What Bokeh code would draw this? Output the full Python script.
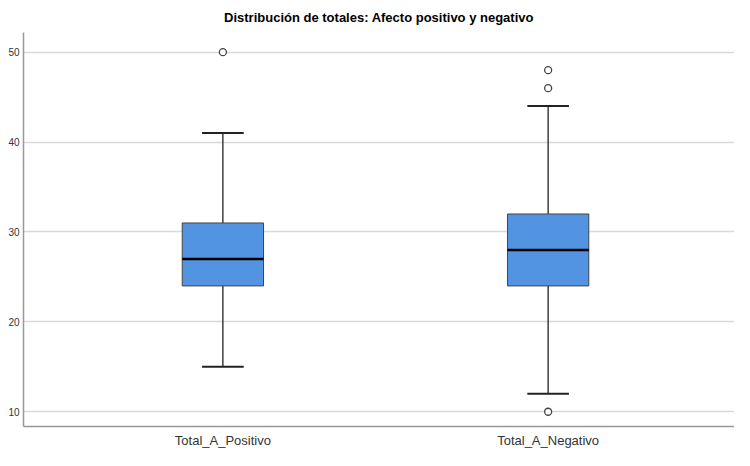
from bokeh.plotting import figure
from bokeh.models import ColumnDataSource, FixedTicker, Range1d
from bokeh.embed import file_html
from bokeh.resources import INLINE

categories = ["Total_A_Positivo", "Total_A_Negativo"]
q1 = [24, 24]
median = [27, 28]
q3 = [31, 32]
lower = [15, 12]
upper = [41, 44]
outlier_cat = ["Total_A_Positivo", "Total_A_Negativo", "Total_A_Negativo", "Total_A_Negativo"]
outlier_val = [50, 48, 46, 10]
y_ticks = [10, 20, 30, 40, 50]

pos = [i + 1 for i in range(len(categories))]
box_w = 0.25
cap_w = 0.128

src = ColumnDataSource(dict(
    x=pos, q1=q1, med=median, q3=q3, lo=lower, up=upper,
    xl=[p - box_w / 2 for p in pos], xr=[p + box_w / 2 for p in pos],
    cl=[p - cap_w / 2 for p in pos], cr=[p + cap_w / 2 for p in pos],
))
osrc = ColumnDataSource(dict(
    x=[pos[categories.index(c)] for c in outlier_cat], y=outlier_val))

p = figure(width=734, height=450, output_backend="svg", toolbar_location=None,
           x_range=Range1d(0.387, 2.573), y_range=Range1d(8.36, 52.19),
           title="Distribución de totales: Afecto positivo y negativo",
           min_border_left=23, min_border_right=0, min_border_top=0, min_border_bottom=0)

p.title.align = "center"
p.title.text_font = "Liberation Sans"
p.title.text_font_size = "13px"
p.title.text_font_style = "bold"
p.title.text_color = "#000000"
p.title.standoff = 15

# whiskers
p.segment(x0="x", y0="q3", x1="x", y1="up", source=src, line_color="#222222", line_width=1.3)
p.segment(x0="x", y0="q1", x1="x", y1="lo", source=src, line_color="#222222", line_width=1.3)
p.segment(x0="cl", y0="up", x1="cr", y1="up", source=src, line_color="#222222", line_width=2)
p.segment(x0="cl", y0="lo", x1="cr", y1="lo", source=src, line_color="#222222", line_width=2)

# boxes
p.vbar(x="x", width=box_w, top="q3", bottom="q1", source=src,
       fill_color="#5294E2", line_color="#444444", line_width=1)
p.segment(x0="xl", y0="med", x1="xr", y1="med", source=src, line_color="#000000", line_width=2.5)

# outliers
p.scatter(x="x", y="y", source=osrc, size=7, fill_color="white",
          line_color="#444444", line_width=1.3)

p.xgrid.visible = False
p.ygrid.grid_line_color = "#d9d9d9"
p.ygrid.grid_line_width = 1.5
p.outline_line_color = None
p.background_fill_color = "white"

p.yaxis.ticker = FixedTicker(ticks=y_ticks)
p.xaxis.ticker = FixedTicker(ticks=pos)
p.xaxis.major_label_overrides = {pp: c for pp, c in zip(pos, categories)}

for ax in (p.xaxis, p.yaxis):
    ax.axis_line_color = "#999999"
    ax.axis_line_width = 1.5
    ax.major_tick_line_color = None
    ax.minor_tick_line_color = None
    ax.major_tick_out = 0
    ax.major_tick_in = 0
    ax.minor_tick_out = 0
    ax.axis_label_standoff = 0
    ax.major_label_text_font = "Liberation Sans"
    ax.major_label_text_color = "#333333"

p.yaxis.major_label_text_font_size = "10px"
p.yaxis.major_label_standoff = 4
p.xaxis.major_label_text_font_size = "13px"
p.xaxis.major_label_standoff = 6

open("out.html", "w").write(file_html(p, INLINE))
